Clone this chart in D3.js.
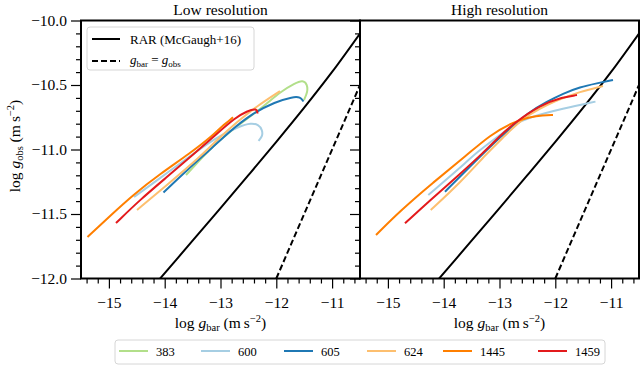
<!DOCTYPE html>
<html lang="en">
<head>
<meta charset="UTF-8">
<title>Radial acceleration relation: low vs high resolution</title>
<script src="https://d3js.org/d3.v7.min.js"></script>
<style>
  body { margin: 0; background: #fff; }
  svg text { font-family: "Liberation Serif", "DejaVu Serif", serif !important; fill: #000; }
</style>
</head>
<body>
<div id="chart"></div>
<script>
// ---- data (log10 of accelerations, m s^-2) ----
const galaxies = ["383", "600", "605", "624", "1445", "1459"];
const colors   = ["#b2df8a", "#a6cee3", "#1f78b4", "#fdbf6f", "#ff7f00", "#e31a1c"];

const xTicks = [-15, -14, -13, -12, -11];
const yTicks = [-12, -11.5, -11, -10.5, -10];

// RAR (McGaugh+16)
const rarX = [-14.1, -13.5, -13.0, -12.5, -12.0, -11.5, -11.0, -10.5];
const rarY = [-12.009, -11.707, -11.454, -11.199, -10.941, -10.676, -10.399, -10.101];
// one-to-one line
const oneX = [-12, -10.5];
const oneY = [-12, -10.5];

// low resolution panel
const low383  = [[-13.618,-11.198],[-13.367,-11.081],[-13.134,-10.973],[-12.776,-10.841],[-12.238,-10.671],[-11.934,-10.554],[-11.665,-10.486],[-11.522,-10.462],[-11.445,-10.495],[-11.437,-10.554],[-11.504,-10.616]];
const low600  = [[-14.550,-11.368],[-14.084,-11.222],[-13.547,-11.052],[-13.099,-10.911],[-12.651,-10.818],[-12.453,-10.795],[-12.320,-10.806],[-12.250,-10.849],[-12.245,-10.895],[-12.319,-10.934]];
const low605  = [[-14.022,-11.333],[-13.600,-11.159],[-13.134,-10.981],[-12.830,-10.857],[-12.418,-10.717],[-12.023,-10.632],[-11.701,-10.591],[-11.570,-10.593],[-11.513,-10.628]];
const low624  = [[-14.496,-11.469],[-13.959,-11.275],[-13.367,-11.058],[-13.063,-10.926],[-12.704,-10.787],[-12.346,-10.663],[-11.934,-10.547]];
const low1445 = [[-15.384,-11.678],[-14.980,-11.515],[-14.568,-11.352],[-14.084,-11.190],[-13.547,-11.030],[-13.134,-10.890],[-12.973,-10.818],[-12.866,-10.786],[-12.776,-10.750]];
const low1459 = [[-14.873,-11.570],[-14.443,-11.390],[-13.959,-11.213],[-13.493,-11.040],[-13.045,-10.870],[-12.740,-10.755],[-12.525,-10.702],[-12.346,-10.680],[-12.337,-10.721]];

// high resolution panel (no 383)
const high600  = [[-14.276,-11.353],[-13.708,-11.143],[-13.403,-11.019],[-12.991,-10.888],[-12.758,-10.810],[-12.453,-10.748],[-11.862,-10.682],[-11.280,-10.629]];
const high605  = [[-13.977,-11.327],[-13.529,-11.133],[-12.991,-10.903],[-12.453,-10.702],[-12.149,-10.629],[-11.862,-10.566],[-11.557,-10.516],[-11.253,-10.487],[-10.966,-10.461]];
const high624  = [[-14.233,-11.469],[-13.708,-11.260],[-13.170,-11.004],[-12.991,-10.934],[-12.579,-10.748],[-11.970,-10.616],[-11.557,-10.552],[-11.145,-10.508]];
const high1445 = [[-15.213,-11.663],[-14.783,-11.477],[-14.192,-11.256],[-13.582,-11.043],[-13.170,-10.888],[-12.758,-10.787],[-12.453,-10.748],[-12.220,-10.733],[-12.041,-10.733]];
const high1459 = [[-14.694,-11.572],[-14.281,-11.407],[-13.708,-11.190],[-13.296,-11.027],[-12.991,-10.895],[-12.758,-10.802],[-12.274,-10.655],[-11.862,-10.593],[-11.611,-10.578]];

const lowRes  = [low383, low600, low605, low624, low1445, low1459];
const highRes = [null, high600, high605, high624, high1445, high1459];

// ---- layout ----
const width = 644, height = 368;
const panelW = 279, plotH = 258, marginTop = 20.5;
const panels = [
  { x0: 81,  title: "Low resolution",  series: lowRes,  labels: true },
  { x0: 360, title: "High resolution", series: highRes, labels: false }
];

const x = d3.scaleLinear().domain([-15.5, -10.5]).range([0, panelW]);
const y = d3.scaleLinear().domain([-12, -10]).range([plotH, 0]);

const rarLine = d3.line()
  .x(d => x(d[0]))
  .y(d => y(d[1]))
  .curve(d3.curveCatmullRom.alpha(0.5));

const line = d3.line()
  .x(d => x(d[0]))
  .y(d => y(d[1]))
  .curve(d3.curveBasis);

const svg = d3.select("#chart").append("svg")
  .attr("width", width)
  .attr("height", height);

const defs = svg.append("defs");

const xMinor = d3.range(-15.4, -10.5, 0.2).map(v => +v.toFixed(1)).filter(v => !xTicks.includes(v));
const yMinor = d3.range(-11.9, -10.0, 0.1).map(v => +v.toFixed(1)).filter(v => !yTicks.includes(v));

function styleAxis(sel) {
  sel.attr("font-family", null);
  sel.select(".domain").remove();
  sel.selectAll(".tick line").attr("stroke", "#000").attr("stroke-width", 1.2);
  sel.selectAll(".tick text").style("font-size", "15.5px");
}

panels.forEach((p, i) => {
  const g = svg.append("g").attr("transform", `translate(${p.x0},${marginTop})`);

  defs.append("clipPath").attr("id", "clip" + i)
    .append("rect").attr("width", panelW).attr("height", plotH);

  const plot = g.append("g").attr("clip-path", `url(#clip${i})`);

  // reference lines
  plot.append("path")
    .datum(d3.zip(rarX, rarY))
    .attr("d", rarLine)
    .attr("fill", "none")
    .attr("stroke", "#000")
    .attr("stroke-width", 2);

  plot.append("path")
    .datum(d3.zip(oneX, oneY))
    .attr("d", d3.line().x(d => x(d[0])).y(d => y(d[1])))
    .attr("fill", "none")
    .attr("stroke", "#000")
    .attr("stroke-width", 2)
    .attr("stroke-dasharray", "6,3");

  // galaxy curves
  p.series.forEach((pts, k) => {
    if (!pts) return;
    plot.append("path")
      .datum(pts)
      .attr("d", line)
      .attr("fill", "none")
      .attr("stroke", colors[k])
      .attr("stroke-width", 2);
  });

  // x axis
  g.append("g")
    .attr("transform", `translate(0,${plotH})`)
    .call(d3.axisBottom(x).tickValues(xTicks).tickSize(10).tickPadding(8).tickFormat(d3.format("d")))
    .call(styleAxis);
  g.append("g")
    .attr("transform", `translate(0,${plotH})`)
    .call(d3.axisBottom(x).tickValues(xMinor).tickSize(5).tickFormat(""))
    .call(styleAxis);

  // y axis
  g.append("g")
    .call(d3.axisLeft(y).tickValues(yTicks).tickSize(10).tickPadding(4)
      .tickFormat(p.labels ? d3.format(".1f") : ""))
    .call(styleAxis);
  g.append("g")
    .call(d3.axisLeft(y).tickValues(yMinor).tickSize(5).tickFormat(""))
    .call(styleAxis);

  // frame
  g.append("rect")
    .attr("width", panelW)
    .attr("height", plotH)
    .attr("fill", "none")
    .attr("stroke", "#000")
    .attr("stroke-width", 2);

  // title
  g.append("text")
    .attr("x", panelW / 2)
    .attr("y", -6)
    .attr("text-anchor", "middle")
    .style("font-size", "15.5px")
    .text(p.title);

  // x label
  const xl = g.append("text")
    .attr("x", panelW / 2)
    .attr("y", plotH + 49)
    .attr("text-anchor", "middle")
    .style("font-size", "15.5px");
  xl.append("tspan").text("log ");
  xl.append("tspan").attr("font-style", "italic").text("g");
  xl.append("tspan").attr("dy", 3).style("font-size", "10.5px").text("bar");
  xl.append("tspan").attr("dy", -3).text(" (m\u2009s");
  xl.append("tspan").attr("dy", -6).style("font-size", "10.5px").text("\u22122");
  xl.append("tspan").attr("dy", 6).text(")");
});

// y label
const yl = svg.append("text")
  .attr("transform", "translate(20,146) rotate(-90)")
  .attr("text-anchor", "middle")
  .style("font-size", "15.5px");
yl.append("tspan").text("log ");
yl.append("tspan").attr("font-style", "italic").text("g");
yl.append("tspan").attr("dy", 3).style("font-size", "10.5px").text("obs");
yl.append("tspan").attr("dy", -3).text(" (m\u2009s");
yl.append("tspan").attr("dy", -6).style("font-size", "10.5px").text("\u22122");
yl.append("tspan").attr("dy", 6).text(")");

// top-left legend
const leg1 = svg.append("g");
leg1.append("rect")
  .attr("x", 87).attr("y", 27).attr("width", 167).attr("height", 43).attr("rx", 3)
  .attr("fill", "#fff").attr("fill-opacity", 0.8)
  .attr("stroke", "#d6d6d6").attr("stroke-width", 1);
leg1.append("line").attr("x1", 92).attr("x2", 120).attr("y1", 39).attr("y2", 39)
  .attr("stroke", "#000").attr("stroke-width", 2);
leg1.append("line").attr("x1", 92).attr("x2", 120).attr("y1", 61).attr("y2", 61)
  .attr("stroke", "#000").attr("stroke-width", 2).attr("stroke-dasharray", "6,3");
leg1.append("text").attr("x", 130).attr("y", 43.5).style("font-size", "13px").text("RAR (McGaugh+16)");
const eq = leg1.append("text").attr("x", 130).attr("y", 64).style("font-size", "13px");
eq.append("tspan").attr("font-style", "italic").text("g");
eq.append("tspan").attr("dy", 2.5).style("font-size", "9px").text("bar");
eq.append("tspan").attr("dy", -2.5).text(" = ");
eq.append("tspan").attr("font-style", "italic").text("g");
eq.append("tspan").attr("dy", 2.5).style("font-size", "9px").text("obs");

// bottom legend
const leg2 = svg.append("g");
leg2.append("rect")
  .attr("x", 115).attr("y", 340).attr("width", 490).attr("height", 24).attr("rx", 3)
  .attr("fill", "#fff")
  .attr("stroke", "#d6d6d6").attr("stroke-width", 1);
const legStart = [119, 201, 284, 367, 443, 538];
galaxies.forEach((name, k) => {
  leg2.append("line")
    .attr("x1", legStart[k]).attr("x2", legStart[k] + 29)
    .attr("y1", 351).attr("y2", 351)
    .attr("stroke", colors[k]).attr("stroke-width", 2);
  leg2.append("text")
    .attr("x", legStart[k] + 37).attr("y", 355.5)
    .style("font-size", "12.5px")
    .text(name);
});
</script>
</body>
</html>
